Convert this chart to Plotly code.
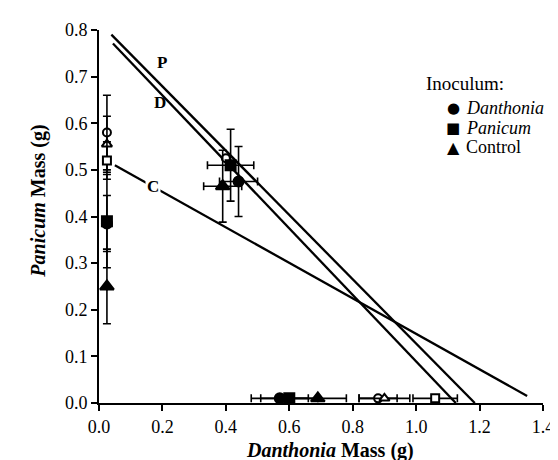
import plotly.graph_objects as go

# ---- data ----
# filled symbols: inoculum treatments
dan_x = [0.025, 0.44, 0.57]
dan_y = [0.385, 0.475, 0.01]
dan_xerr = [None, 0.06, 0.09]
dan_yerr = [0.06, 0.075, None]

pan_x = [0.025, 0.415, 0.60]
pan_y = [0.39, 0.51, 0.01]
pan_xerr = [None, 0.073, 0.09]
pan_yerr = [0.10, 0.077, None]

con_x = [0.025, 0.39, 0.69]
con_y = [0.25, 0.465, 0.01]
con_xerr = [None, 0.06, 0.09]
con_yerr = [0.08, 0.077, None]

# open symbols
ocir_x = [0.025, 0.40, 0.88]
ocir_y = [0.58, 0.525, 0.01]
ocir_xerr = [None, None, 0.06]
ocir_yerr = [0.08, None, None]

otri_x = [0.025, 0.90]
otri_y = [0.555, 0.01]
otri_xerr = [None, 0.08]
otri_yerr = [0.06, None]

osq_x = [0.025, 1.06]
osq_y = [0.52, 0.01]
osq_xerr = [None, 0.07]
osq_yerr = [0.04, None]

# replacement-series lines (endpoints)
line_P_x = [0.039, 1.185]
line_P_y = [0.79, 0.0]
line_D_x = [0.044, 1.125]
line_D_y = [0.771, 0.0]
line_C_x = [0.05, 1.35]
line_C_y = [0.51, 0.015]

labels = ["P", "D", "C"]
label_x = [0.20, 0.193, 0.17]
label_y = [0.73, 0.645, 0.464]

legend_title = "Inoculum:"
legend_symbols = ["\u25CF", "\u25A0", "\u25B2"]
legend_names = ["<i>Danthonia</i>", "<i>Panicum</i>", "Control"]

x_ticks = [0.0, 0.2, 0.4, 0.6, 0.8, 1.0, 1.2, 1.4]
y_ticks = [0.0, 0.1, 0.2, 0.3, 0.4, 0.5, 0.6, 0.7, 0.8]

FONT = "Liberation Serif, Times New Roman, serif"
BLACK = "black"

fig = go.Figure()

for lx, ly in [(line_P_x, line_P_y), (line_D_x, line_D_y), (line_C_x, line_C_y)]:
    fig.add_trace(go.Scatter(x=lx, y=ly, mode="lines",
                             line=dict(color=BLACK, width=2.3),
                             showlegend=False, hoverinfo="skip"))

def err(arr):
    return dict(type="data", array=arr, color=BLACK, thickness=1.6, width=4)

def add_pts(x, y, xe, ye, symbol, size, fill, name=None):
    fig.add_trace(go.Scatter(
        x=x, y=y, mode="markers", name=name, showlegend=False,
        marker=dict(symbol=symbol, size=size, color=fill,
                    line=dict(color=BLACK, width=2)),
        error_x=err(xe), error_y=err(ye)))

add_pts(ocir_x, ocir_y, ocir_xerr, ocir_yerr, "circle", 8, "white")
add_pts(otri_x, otri_y, otri_xerr, otri_yerr, "triangle-up", 9, "white")
add_pts(osq_x, osq_y, osq_xerr, osq_yerr, "square", 8, "white")

add_pts(dan_x, dan_y, dan_xerr, dan_yerr, "circle", 10, BLACK, "Danthonia")
add_pts(pan_x, pan_y, pan_xerr, pan_yerr, "square", 10, BLACK, "Panicum")
add_pts(con_x, con_y, con_xerr, con_yerr, "triangle-up", 12, BLACK, "Control")

for t, lx, ly in zip(labels, label_x, label_y):
    fig.add_annotation(x=lx, y=ly, text="<b>" + t + "</b>", showarrow=False,
                       font=dict(family=FONT, size=17, color=BLACK),
                       bgcolor="white" if t == "C" else "rgba(0,0,0,0)")

# axis titles
fig.add_annotation(xref="paper", yref="paper", x=0.52, y=-0.128,
                   xanchor="center", yanchor="middle",
                   text="<b><i>Danthonia</i> Mass (g)</b>", showarrow=False,
                   font=dict(family=FONT, size=20, color=BLACK))
fig.add_annotation(xref="paper", yref="paper", x=-0.135, y=0.54, textangle=-90,
                   xanchor="center", yanchor="middle",
                   text="<b><i>Panicum</i> Mass (g)</b>", showarrow=False,
                   font=dict(family=FONT, size=20, color=BLACK))

# legend (text-based)
fig.add_annotation(xref="paper", yref="paper", x=0.731, y=0.856,
                   xanchor="left", yanchor="middle", text=legend_title,
                   showarrow=False, font=dict(family=FONT, size=19, color=BLACK))
row_y = [0.79, 0.737, 0.686]
sym_sizes = [15, 15, 16]
for s, nm, ry, ss in zip(legend_symbols, legend_names, row_y, sym_sizes):
    fig.add_annotation(xref="paper", yref="paper", x=0.798, y=ry,
                       xanchor="center", yanchor="middle", text=s, showarrow=False,
                       font=dict(family="DejaVu Sans", size=ss, color=BLACK))
    fig.add_annotation(xref="paper", yref="paper", x=0.821, y=ry,
                       xanchor="left", yanchor="middle", text=nm, showarrow=False,
                       font=dict(family=FONT, size=18, color=BLACK))

axis_common = dict(showgrid=False, zeroline=False, showline=True, linecolor=BLACK,
                   linewidth=1.8, ticks="outside", tickcolor=BLACK, ticklen=6,
                   tickwidth=1.5, tickformat=".1f",
                   tickfont=dict(family=FONT, size=18, color=BLACK))

fig.update_layout(
    width=558, height=460,
    margin=dict(l=91, r=21, t=19, b=65),
    paper_bgcolor="white", plot_bgcolor="white",
    font=dict(family=FONT, size=18, color=BLACK),
    xaxis=dict(range=[0, 1.4], tickvals=x_ticks, **axis_common),
    yaxis=dict(range=[0, 0.8], tickvals=y_ticks, **axis_common),
    showlegend=False,
)

fig.write_html("out.html")
